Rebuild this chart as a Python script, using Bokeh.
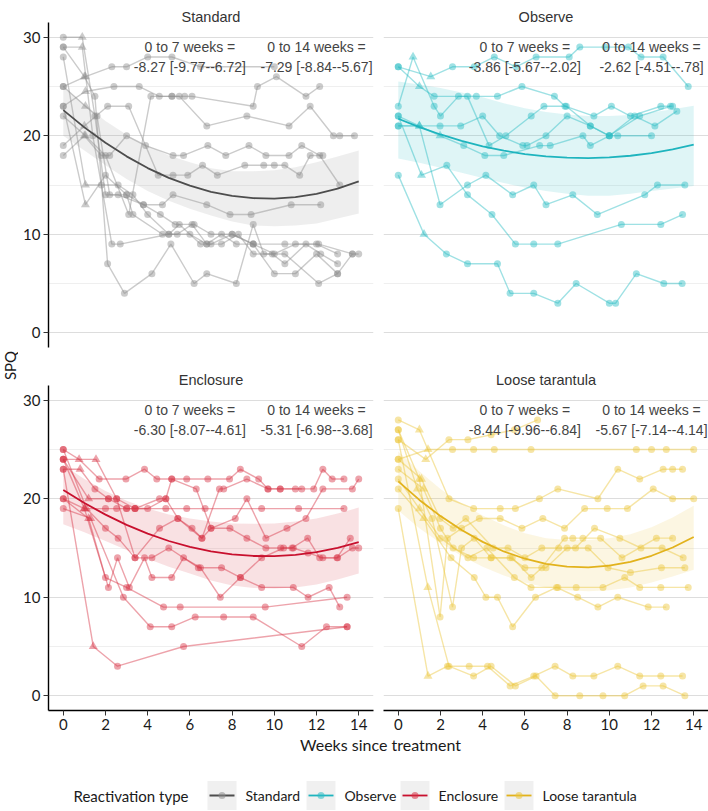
import math
from bokeh.plotting import figure
from bokeh.layouts import row, column
from bokeh.models import Range1d, FixedTicker
from bokeh.embed import file_html
from bokeh.resources import INLINE
from bokeh.core.properties import value

# ---------------- data ----------------
panel_names = ["Standard", "Observe", "Enclosure", "Loose tarantula"]
point_colors = ["#8c8c8c", "#2bbcc4", "#d63345", "#eac53a"]
fit_colors = ["#4d4d4d", "#1eb4be", "#c8102e", "#e2b21c"]

label_7 = "0 to 7 weeks ="
label_14 = "0 to 14 weeks ="
est_7 = ["-8.27 [-9.77--6.72]", "-3.86 [-5.67--2.02]", "-6.30 [-8.07--4.61]", "-8.44 [-9.96--6.84]"]
est_14 = ["-7.29 [-8.84--5.67]", "-2.62 [-4.51--.78]", "-5.31 [-6.98--3.68]", "-5.67 [-7.14--4.14]"]

x_ticks = [0, 2, 4, 6, 8, 10, 12, 14]
y_ticks = [0, 10, 20, 30]
y_minor = [5, 15, 25]

fit_weeks = list(range(15))
standard_fit = [22.60, 20.85, 19.28, 17.91, 16.72, 15.73, 14.93, 14.31, 13.89, 13.66, 13.62, 13.77, 14.11, 14.64, 15.37]
standard_hi = [25.0, 23.2, 21.5, 20.1, 19.0, 18.0, 17.3, 16.7, 16.4, 16.4, 16.5, 16.8, 17.3, 17.9, 18.5]
standard_lo = [20.0, 18.5, 17.0, 15.6, 14.4, 13.4, 12.6, 11.9, 11.3, 10.9, 10.8, 10.9, 11.1, 11.6, 12.1]
observe_fit = [21.73, 20.88, 20.13, 19.48, 18.93, 18.49, 18.14, 17.90, 17.77, 17.73, 17.80, 17.97, 18.24, 18.61, 19.09]
observe_hi = [25.5, 25.2, 24.85, 24.4, 23.9, 23.3, 22.8, 22.4, 22.15, 22.0, 22.0, 22.1, 22.35, 22.7, 23.05]
observe_lo = [17.7, 17.25, 16.75, 16.25, 15.7, 15.2, 14.75, 14.4, 14.1, 13.9, 13.9, 14.1, 14.4, 14.65, 14.9]
enclosure_fit = [20.90, 19.57, 18.39, 17.35, 16.46, 15.71, 15.11, 14.66, 14.35, 14.19, 14.17, 14.31, 14.59, 15.02, 15.60]
enclosure_hi = [23.4, 22.0, 20.8, 19.8, 19.0, 18.4, 18.0, 17.7, 17.5, 17.45, 17.5, 17.7, 18.0, 18.5, 19.1]
enclosure_lo = [17.4, 16.6, 15.7, 14.8, 13.9, 13.1, 12.4, 11.7, 11.2, 10.95, 10.9, 11.0, 11.3, 11.8, 12.4]
loose_fit = [21.76, 19.88, 18.24, 16.82, 15.62, 14.65, 13.91, 13.39, 13.10, 13.04, 13.20, 13.59, 14.21, 15.05, 16.12]
loose_hi = [24.8, 22.8, 21.0, 19.5, 18.3, 17.3, 16.5, 16.0, 15.8, 15.8, 16.0, 16.4, 17.1, 18.1, 19.3]
loose_lo = [18.8, 17.0, 15.5, 14.2, 13.1, 12.2, 11.5, 11.0, 10.7, 10.6, 10.7, 11.0, 11.5, 12.1, 12.8]

standard_weeks = [
    [0, 1.05, 2.3, 3.0, 4.0, 5.15, 6.5, 10.0],
    [0, 1.05, 2.4, 3.6, 4.55, 5.15, 5.75, 6.1, 9.0, 9.2, 10.1, 11.5, 12.15],
    [0, 1.05, 2.0, 3.1, 4.15, 5.15, 5.5, 6.8, 8.7, 10.7, 11.7, 12.8, 13.1, 13.8],
    [0, 1.0, 2.1, 3.1, 4.5, 5.2, 5.9, 6.6, 7.3, 8.6, 9.5, 10.0, 10.5, 11.2, 11.7, 12.3],
    [0, 1.0, 1.8, 2.2, 3.0, 3.9, 5.2, 5.7, 6.85, 7.7, 8.8, 9.6, 10.7, 11.3, 12.15, 13.1],
    [0, 0.9, 1.5, 2.0, 2.6, 3.8, 4.7, 5.2, 6.8, 7.9, 8.9, 10.8, 12.2],
    [0, 0.9, 1.4, 2.3, 2.7, 5.0, 6.0, 6.8, 7.5, 8.2, 9.0, 10.5, 12.1, 13.7, 14.0],
    [0, 1.0, 1.5, 2.1, 2.9, 4.2, 5.1, 6.2, 6.8, 8.2, 9.0, 9.5, 10.5, 12.1, 13.0, 13.7],
    [0, 1.05, 1.8, 2.6, 3.3, 4.0, 5.0, 5.5, 6.5, 7.0, 8.0, 9.0, 10.0, 11.0, 12.0, 13.0],
    [0, 1.05, 1.6, 2.2, 3.0, 3.3, 4.7, 5.4, 6.1, 6.8, 7.5, 8.3, 9.0, 9.9, 10.5, 11.5, 12.2, 13.0],
    [0, 1.05, 2.0, 3.0, 3.8, 4.6, 5.3, 6.2, 7.0, 8.0, 9.0, 10.0, 11.0, 12.0, 13.0],
]
standard_spq = [
    [25, 26, 27, 27, 28, 28, 27, 27],
    [23, 24.5, 25, 25, 24, 24, 24, 24, 23, 25, 26, 24, 25],
    [22, 20, 18, 12, 24, 24, 24, 21, 22, 21, 23, 20, 20, 20],
    [19, 21, 23, 23, 16, 16, 16, 17, 16, 17, 17, 17, 17, 16, 18, 18],
    [18, 20, 18, 18, 20, 19, 18, 18, 19, 18, 19, 18, 18, 19, 18, 15],
    [30, 30, 22, 14, 14, 13, 13, 14, 13, 12, 12, 13, 13],
    [29, 29, 20, 9, 9, 10, 10, 9, 10, 9, 9, 9, 9, 8, 8],
    [29, 26, 24, 7, 4, 6, 9, 5, 6, 5, 11, 8, 8, 5, 6, 8],
    [28, 15, 15, 15, 14, 12, 10, 11, 9, 9, 10, 9, 6, 6, 8, 6],
    [25, 23, 22, 14, 14, 12, 10, 10, 11, 9, 9, 10, 8, 8, 7, 9, 8, 7],
    [23, 13, 16, 14, 13, 12, 11, 11, 10, 10, 9, 8, 9, 9, 8],
]

observe_weeks = [
    [0, 1.54, 2.57, 3.6, 4.55, 5.58, 6.53, 8.1, 8.6, 9.8, 10.9, 11.5, 12.55, 13.74],
    [0, 0.7, 1.7, 2.0, 2.85, 3.7, 4.7, 5.86, 7.4, 7.9, 9.27, 10.1, 11.0, 12.44, 13.0],
    [0, 1.0, 1.7, 3.28, 4.3, 5.1, 6.3, 6.9, 7.96, 9.1, 10.0, 10.4, 12.0],
    [0, 1.0, 1.98, 2.96, 4.0, 4.8, 5.9, 6.1, 7.0, 8.0, 9.1, 10.0, 11.2, 12.16, 13.2],
    [0, 1.98, 3.1, 4.1, 5.0, 6.7, 7.2, 8.75, 9.1, 10.0, 11.44, 12.9],
    [0, 1.0, 1.98, 3.28, 4.15, 5.42, 6.42, 7.0, 8.27, 9.43, 11.68, 12.28, 13.58],
    [0, 1.1, 2.3, 3.28, 4.44, 5.55, 6.42, 7.56, 10.57, 12.44, 13.47],
    [0, 1.22, 2.28, 3.28, 4.7, 5.3, 6.42, 7.56, 8.43, 10.0, 10.3, 11.28, 12.58, 13.45],
]
observe_spq = [
    [27, 26, 27, 27, 28, 27, 28, 28, 29, 29, 29, 28, 28, 25],
    [23, 28, 23, 22, 24, 24, 24, 25, 24, 23, 22, 23, 22, 23, 23],
    [27, 25, 24, 24, 19, 20, 22, 23, 23, 21, 20, 20, 20],
    [21, 21, 21, 21, 22, 20, 19, 19, 20, 22, 21, 20, 22, 21, 22.5],
    [22, 20, 19, 18, 18, 19, 19, 20, 19, 20, 22, 23],
    [21, 21, 13, 15, 16, 14, 15, 13, 14, 12, 14, 15, 15],
    [22, 16, 17, 14, 12, 9, 9, 9, 11, 11, 12],
    [16, 10, 8, 7, 7, 4, 4, 3, 5, 3, 3, 6, 5, 5],
]

enclosure_weeks = [
    [0, 0.75, 1.7, 2.97, 3.85, 4.43, 5.14, 5.85, 6.85, 7.88, 8.39, 9.26, 9.7, 10.28, 11.0, 11.87, 12.3, 12.74, 13.3],
    [0, 1.55, 2.53, 3.4, 4.0, 4.86, 5.14, 6.3, 7.0, 8.15, 8.7, 9.6, 10.6, 11.5, 12.3, 13.7, 14.0],
    [0, 1.0, 2.0, 2.53, 3.0, 3.4, 4.86, 5.85, 6.72, 9.4, 11.15, 13.3],
    [0, 0.8, 1.5, 2.14, 2.53, 3.4, 4.56, 5.43, 6.57, 7.4, 7.6, 8.7, 9.7, 10.28, 11.3],
    [0, 1.42, 2.57, 5.7, 13.45],
    [0, 1.0, 2.14, 2.57, 3.13, 3.85, 4.2, 5.14, 5.7, 6.5, 7.44, 8.39, 9.4, 10.44, 10.84, 11.58, 12.15, 12.97, 13.6],
    [0, 1.3, 2.85, 4.12, 5.14, 6.25, 7.6, 9.0, 11.3, 12.47, 13.45],
    [0, 1.2, 2.0, 3.0, 4.75, 5.54, 9.57, 13.45],
    [0, 1.1, 2.0, 2.6, 3.4, 4.2, 5.0, 6.4, 7.5, 8.4, 9.4, 10.9, 11.6, 12.6, 13.1],
    [0, 1.2, 2.14, 3.0, 3.4, 4.56, 4.86, 5.43, 6.1, 6.57, 7.0, 7.9, 8.7, 9.6, 10.3, 10.9, 11.6, 12.3, 13.0, 13.7, 14.0],
]
enclosure_spq = [
    [25, 24, 22, 22, 23, 22, 22, 22, 22, 22, 23, 22, 21, 21, 21, 21, 23, 22, 22],
    [24, 24, 20, 19, 19, 20, 22, 21, 17, 18, 20, 16, 17, 18, 21, 21, 22],
    [24, 19, 19, 19, 19, 19, 19, 19, 19, 19, 19, 19],
    [23, 23, 21, 20, 20, 14, 17, 18, 16, 21, 21, 22, 21, 21, 21],
    [23, 5, 3, 5, 7],
    [20, 19, 11, 14, 11, 14, 12, 12, 14, 13, 10, 12, 14, 15, 15, 16, 14, 14, 16],
    [19, 18, 10, 7, 7, 8, 8, 8, 5, 7, 7],
    [20, 18, 12, 11, 9, 9, 9, 10],
    [25, 19, 17, 16, 14, 14, 15, 13, 13, 12, 11, 11, 10, 11, 9],
    [24, 20, 20, 19, 19, 20, 20, 18, 17, 16, 17, 17, 16, 15, 15, 15, 14.5, 14, 14, 15, 15],
]

loose_weeks = [
    [0, 1.0, 2.4, 3.57, 4.83, 5.55, 6.69, 7.56, 9.46, 10.4, 11.44, 12.55, 13.0, 13.47],
    [0, 1.3, 2.4, 3.3, 4.4, 5.5, 6.6],
    [0, 1.41, 2.57, 3.57, 4.55, 6.29, 11.28, 12.0, 12.7, 14.0],
    [0, 1.0, 1.98, 2.33, 3.0, 3.84, 4.83, 5.86, 6.85, 7.88, 8.83, 9.9, 10.86, 12.08, 13.0, 14.0],
    [0, 0.9, 1.6, 2.57, 3.0, 3.6, 4.4, 5.4, 6.3, 6.8, 7.88, 8.27, 8.75, 9.59, 10.6, 12.23, 13.0],
    [0, 1.2, 2.0, 2.6, 3.57, 4.4, 5.3, 6.0, 7.0, 8.0, 9.0, 9.94, 11.0, 12.47, 13.58],
    [0, 1.0, 2.0, 3.3, 4.2, 5.5, 6.29, 7.56, 8.43, 9.7, 10.73, 11.44, 12.44, 13.74],
    [0, 1.2, 2.5, 3.6, 4.15, 4.7, 5.42, 6.5, 7.5, 8.5, 9.46, 10.4, 11.84, 12.7],
    [0, 1.41, 2.33, 3.36, 4.23, 5.3, 6.42, 7.43, 8.27, 9.27, 10.4, 11.44, 12.44, 13.47],
    [0, 1.4, 2.4, 3.57, 4.4, 5.55, 6.53, 7.43, 8.6, 9.7, 10.73, 11.6, 12.55, 13.58],
    [0, 1.1, 1.98, 2.6, 3.2, 4.5, 5.2, 6.0, 6.8, 7.6, 8.4, 9.3, 10.5, 11.5, 12.5, 13.5],
]
loose_spq = [
    [28, 27, 20, 19, 19, 19, 20, 21, 20, 23, 22, 23, 23, 23],
    [26, 24, 26, 26, 26.5, 27, 28],
    [24, 25, 25, 25, 25, 25, 25, 25, 25, 25],
    [27, 22, 8, 16, 17, 18, 18, 17, 18, 17, 19, 19, 19, 21, 20, 20],
    [27, 21, 18, 9, 15, 16, 14, 14, 12, 13, 16, 16, 16, 16, 14, 16, 16],
    [23, 21, 17, 15, 14, 14, 14, 13, 13, 15, 15, 13, 12.5, 13, 13],
    [22, 19, 16, 14, 15, 12, 11, 11, 11, 11, 12, 11, 11, 11],
    [21, 18, 14, 12, 10, 10, 7, 10, 11, 10, 9, 10, 9, 9],
    [19, 2, 3, 3, 3, 1, 2, 3, 2, 2, 3, 2, 2, 2],
    [26, 11, 3, 2, 3, 1, 2, 0, 0, 0, 0, 1, 1, 0],
    [24, 22, 18, 17, 18, 15, 15, 14, 15, 15, 15, 17, 16, 15, 15, 14],
]

panel_weeks = [standard_weeks, observe_weeks, enclosure_weeks, loose_weeks]
panel_spq = [standard_spq, observe_spq, enclosure_spq, loose_spq]
panel_fit = [standard_fit, observe_fit, enclosure_fit, loose_fit]
panel_hi = [standard_hi, observe_hi, enclosure_hi, loose_hi]
panel_lo = [standard_lo, observe_lo, enclosure_lo, loose_lo]

# ---------------- styling / layout ----------------
FRAME = 325
TICK_FONT = "Lato"
TEXT_FONT = "Liberation Sans"
STRIP_W = 18
LEFT_B = 30
GAP = 5
TOP1, BOT1, TOP2, BOT2 = 22, 9, 29, 25


def blank_fig(w, h):
    f = figure(width=w, height=h, x_range=Range1d(0, w), y_range=Range1d(h, 0),
               output_backend="svg", toolbar_location=None, x_axis_location=None,
               y_axis_location=None, min_border=0)
    f.outline_line_color = None
    f.xgrid.visible = False
    f.ygrid.visible = False
    return f


def title_fig(k, left, right, h):
    f = blank_fig(left + FRAME + right, h)
    f.text(x=[left + FRAME / 2], y=[h - 6], text=[panel_names[k]], text_align="center",
           text_baseline="alphabetic", text_font=value(TEXT_FONT), text_font_size="14.5px",
           text_font_style="normal", text_color="#333333")
    return f


def panel_fig(k, show_y, show_x, left, right, bottom):
    p = figure(width=left + FRAME + right, height=FRAME + bottom,
               x_range=Range1d(-0.7, 14.7), y_range=Range1d(-1.5, 31.5),
               output_backend="svg", toolbar_location=None,
               x_axis_location="below" if show_x else None,
               y_axis_location="left" if show_y else None,
               min_border_left=left, min_border_right=right,
               min_border_top=0, min_border_bottom=bottom)
    p.outline_line_color = None
    p.background_fill_color = "white"
    p.border_fill_color = "white"
    p.xgrid.visible = False
    p.ygrid.ticker = FixedTicker(ticks=y_ticks, minor_ticks=y_minor)
    p.ygrid.grid_line_color = "#dddddd"
    p.ygrid.grid_line_width = 1.2
    p.ygrid.minor_grid_line_color = "#efefef"
    p.ygrid.minor_grid_line_width = 1.0

    axes = []
    if show_y:
        p.yaxis.ticker = FixedTicker(ticks=y_ticks)
        axes.append(p.yaxis[0])
    if show_x:
        p.xaxis.ticker = FixedTicker(ticks=x_ticks)
        axes.append(p.xaxis[0])
    for ax in axes:
        ax.axis_line_color = "black"
        ax.axis_line_width = 1.4
        ax.major_tick_line_color = "#333333"
        ax.major_tick_out = 5
        ax.major_tick_in = 0
        ax.minor_tick_out = 0
        ax.minor_tick_in = 0
        ax.major_label_text_font = TICK_FONT
        ax.major_label_text_font_size = "15px"
        ax.major_label_text_color = "#1a1a1a"
        ax.major_label_standoff = 3

    c = point_colors[k]
    p.varea(x=fit_weeks, y1=panel_lo[k], y2=panel_hi[k], fill_color=c, fill_alpha=0.15)
    p.multi_line(xs=panel_weeks[k], ys=panel_spq[k], line_color=c, line_alpha=0.45, line_width=1.4)

    cx, cy, tx, ty = [], [], [], []
    for ws, ss in zip(panel_weeks[k], panel_spq[k]):
        for i, (w, s) in enumerate(zip(ws, ss)):
            if i == 1:
                tx.append(w); ty.append(s)
            else:
                cx.append(w); cy.append(s)
    p.scatter(cx, cy, marker="circle", size=7, fill_color=c, fill_alpha=0.45, line_color=None)
    p.scatter(tx, ty, marker="triangle", size=9, fill_color=c, fill_alpha=0.45, line_color=None)

    p.line(fit_weeks, panel_fit[k], line_color=fit_colors[k], line_width=1.8)

    p.text(x=[6, 12, 6, 12], y=[29, 29, 27, 27],
           text=[label_7, label_14, est_7[k], est_14[k]],
           text_font=value(TEXT_FONT), text_font_size="14px", text_color="#444444",
           text_align="center", text_baseline="middle")
    return p


tl_t = title_fig(0, LEFT_B, GAP, TOP1)
tr_t = title_fig(1, GAP, 0, TOP1)
bl_t = title_fig(2, LEFT_B, GAP, TOP2)
br_t = title_fig(3, GAP, 0, TOP2)
tl = panel_fig(0, True, False, LEFT_B, GAP, BOT1)
tr = panel_fig(1, False, False, GAP, 0, BOT1)
bl = panel_fig(2, True, True, LEFT_B, GAP, BOT2)
br = panel_fig(3, False, True, GAP, 0, BOT2)

GRID_H = TOP1 + FRAME + BOT1 + TOP2 + FRAME + BOT2
TOTAL_W = STRIP_W + (LEFT_B + FRAME + GAP) + (GAP + FRAME)

# y-axis title strip
spq = blank_fig(STRIP_W, GRID_H)
spq.text(x=[9], y=[365], text=["SPQ"], angle=math.pi / 2, text_align="center",
         text_baseline="middle", text_font=value(TICK_FONT), text_font_size="15px",
         text_color="#1a1a1a")

# bottom strip: x-axis title and legend
BH = 811 - GRID_H
bot = blank_fig(TOTAL_W, BH)
bot.text(x=[380], y=[9], text=["Weeks since treatment"], text_align="center",
         text_baseline="middle", text_font=value(TICK_FONT), text_font_size="16px",
         text_color="#1a1a1a")
LEG_Y = 60
bot.text(x=[73], y=[LEG_Y], text=["Reactivation type"], text_align="left",
         text_baseline="middle", text_font=value(TICK_FONT), text_font_size="15px",
         text_color="#1a1a1a")
legend_x = [207, 306, 400, 504]
KEY = 29
bot.rect(x=[lx + KEY / 2 for lx in legend_x], y=[LEG_Y] * 4, width=KEY, height=KEY,
         fill_color="#f0f0f0", line_color=None)
bot.segment(x0=[lx + 2 for lx in legend_x], y0=[LEG_Y] * 4, x1=[lx + KEY - 2 for lx in legend_x],
            y1=[LEG_Y] * 4, line_color=fit_colors, line_width=1.8)
bot.scatter(x=[lx + KEY / 2 for lx in legend_x], y=[LEG_Y] * 4, marker="circle", size=7,
            fill_color=point_colors, fill_alpha=0.55, line_color=None)
bot.text(x=[lx + KEY + 9 for lx in legend_x], y=[LEG_Y] * 4, text=panel_names,
         text_align="left", text_baseline="middle", text_font=value(TICK_FONT),
         text_font_size="14px", text_color="#1a1a1a")

grid = column(row(tl_t, tr_t), row(tl, tr), row(bl_t, br_t), row(bl, br))
layout = column(row(spq, grid), bot)

open("out.html", "w").write(file_html(layout, INLINE))
